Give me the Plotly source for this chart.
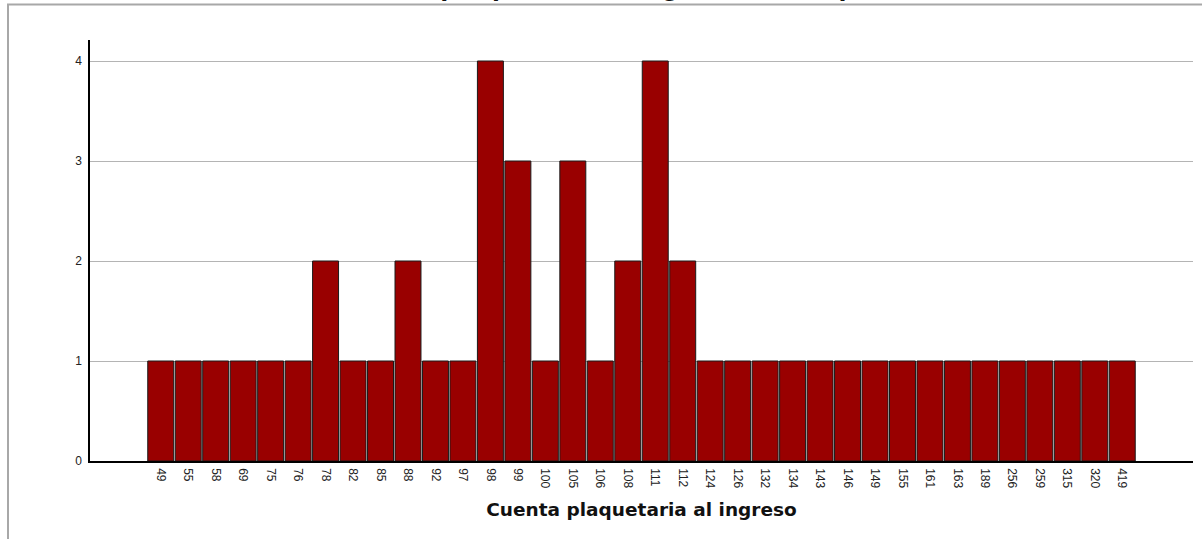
import plotly.graph_objects as go

# Platelet counts at admission and how many patients had each value
cuentas = ["49", "55", "58", "69", "75", "76", "78", "82", "85", "88", "92", "97",
           "98", "99", "100", "105", "106", "108", "111", "112", "124", "126", "132",
           "134", "143", "146", "149", "155", "161", "163", "189", "256", "259",
           "315", "320", "419"]
frecuencia = [1, 1, 1, 1, 1, 1, 2, 1, 1, 2, 1, 1,
              4, 3, 1, 3, 1, 2, 4, 2, 1, 1, 1,
              1, 1, 1, 1, 1, 1, 1, 1, 1, 1,
              1, 1, 1]
y_ticks = [0, 1, 2, 3, 4]

titulo = "Cuenta plaquetaria al ingreso de las pacientes"
titulo_eje_x = "Cuenta plaquetaria al ingreso"

W, H = 1202, 539
# plot area in pixels
L, R, T, B = 90, 1193, 40, 461.5


def px_x(p):
    return (p - L) / (R - L)


def px_y(p):
    return (B - p) / (B - T)


fig = go.Figure(
    go.Bar(
        x=cuentas,
        y=frecuencia,
        marker=dict(color="#990000", line=dict(color="#1a1a1a", width=1)),
        hoverinfo="x+y",
    )
)

n = len(cuentas)
pad = 2.075
fig.update_layout(
    width=W,
    height=H,
    margin=dict(l=L, r=W - R, t=T, b=H - B, autoexpand=False),
    paper_bgcolor="white",
    plot_bgcolor="white",
    bargap=0.055,
    showlegend=False,
    font=dict(family="Liberation Sans, Arial, sans-serif", color="#222"),
    xaxis=dict(
        type="category",
        range=[-0.5 - pad, n - 0.5 + pad],
        showline=True,
        linecolor="#000",
        linewidth=1.5,
        showgrid=False,
        ticks="",
        tickangle=90,
        tickfont=dict(size=12, color="#222"),
        ticklabelstandoff=3,
        title=dict(
            text=titulo_eje_x,
            font=dict(size=18.5, color="#111", family="DejaVu Sans, Verdana, sans-serif",
                      weight="bold"),
            standoff=16,
        ),
        automargin=False,
    ),
    yaxis=dict(
        range=[0, 4.21],
        tickvals=y_ticks,
        showline=True,
        linecolor="#000",
        linewidth=1.5,
        showgrid=True,
        gridcolor="#b4b4b4",
        gridwidth=1,
        zeroline=False,
        ticks="",
        tickfont=dict(size=12, color="#222"),
        ticklabelstandoff=4,
        automargin=False,
    ),
    shapes=[
        dict(
            type="rect",
            xref="paper",
            yref="paper",
            x0=px_x(8),
            x1=px_x(W + 10),
            y0=px_y(H + 10),
            y1=px_y(4.5),
            line=dict(color="#a8a8a8", width=2),
            fillcolor="rgba(0,0,0,0)",
            layer="below",
        )
    ],
    annotations=[
        dict(
            text=titulo,
            xref="paper",
            yref="paper",
            x=px_x(332),
            y=px_y(2.6),
            xanchor="left",
            yanchor="bottom",
            showarrow=False,
            font=dict(size=29, color="#111", family="Liberation Sans, Arial, sans-serif",
                      weight="bold"),
        )
    ],
)

fig.write_html("out.html")
